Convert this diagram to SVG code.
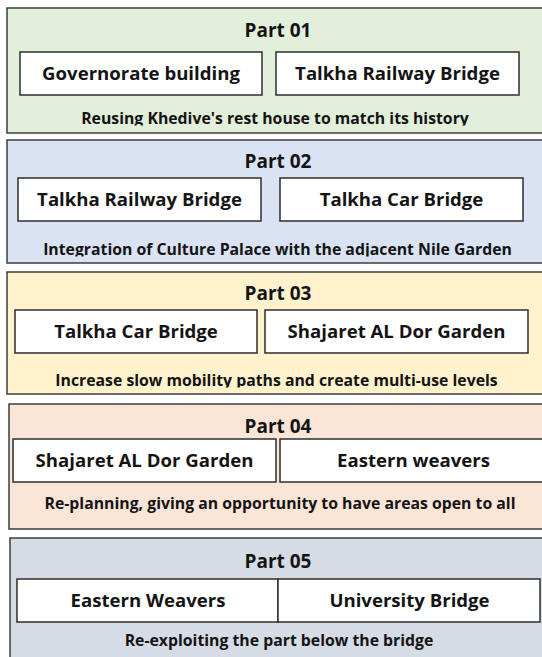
<svg xmlns="http://www.w3.org/2000/svg" width="542" height="657" viewBox="0 0 542 657">
  <style>
    .panel { stroke: #3c3c3c; stroke-width: 1.5; }
    .box { fill: #ffffff; stroke: #2e2e2e; stroke-width: 1.5; }
    .title, .label, .note { font-family: "Open Sans", "Liberation Sans", sans-serif; font-weight: bold; fill: #141414; text-anchor: middle; }
    .title { font-size: 19px; }
    .label { font-size: 18.6px; }
    .note { font-size: 15.8px; }
    .p1 { fill: #e2efda; }
    .p2 { fill: #dae3f3; }
    .p3 { fill: #fff2cc; }
    .p4 { fill: #fbe5d6; }
    .p5 { fill: #d6dce5; }
  </style>
  <defs>
    <!-- footer lines sit low in their panels; their descenders are cut off -->
    <clipPath id="clip-note1"><rect x="0" y="100" width="542" height="25.5"/></clipPath>
    <clipPath id="clip-note2"><rect x="0" y="230" width="542" height="26.5"/></clipPath>
    <clipPath id="clip-note3"><rect x="0" y="360" width="542" height="27.5"/></clipPath>
  </defs>
  <rect width="542" height="657" fill="#ffffff"/>

  <g id="part01">
    <rect class="panel p1" x="7" y="8" width="550" height="125"/>
    <text class="title" x="278" y="37">Part 01</text>
    <g id="part01-governorate">
      <rect class="box" x="20" y="52" width="242" height="43"/>
      <text class="label" x="141" y="80">Governorate building</text>
    </g>
    <g id="part01-railway">
      <rect class="box" x="276" y="52" width="243" height="43"/>
      <text class="label" x="397.5" y="80">Talkha Railway Bridge</text>
    </g>
    <text class="note" x="275" y="124" clip-path="url(#clip-note1)">Reusing Khedive's rest house to match its history</text>
  </g>

  <g id="part02">
    <rect class="panel p2" x="7" y="140" width="550" height="123"/>
    <text class="title" x="278" y="168">Part 02</text>
    <g id="part02-railway">
      <rect class="box" x="18" y="178" width="243" height="43"/>
      <text class="label" x="139.5" y="206">Talkha Railway Bridge</text>
    </g>
    <g id="part02-car">
      <rect class="box" x="280" y="178" width="243" height="43"/>
      <text class="label" x="401.5" y="206">Talkha Car Bridge</text>
    </g>
    <text class="note" x="277.5" y="255" clip-path="url(#clip-note2)">Integration of Culture Palace with the adjacent Nile Garden</text>
  </g>

  <g id="part03">
    <rect class="panel p3" x="7" y="272" width="550" height="122"/>
    <text class="title" x="278" y="300">Part 03</text>
    <g id="part03-car">
      <rect class="box" x="15" y="310" width="242" height="43"/>
      <text class="label" x="136" y="338">Talkha Car Bridge</text>
    </g>
    <g id="part03-shajaret">
      <rect class="box" x="265" y="310" width="263" height="43"/>
      <text class="label" x="396.5" y="338">Shajaret AL Dor Garden</text>
    </g>
    <text class="note" x="276.5" y="386" clip-path="url(#clip-note3)">Increase slow mobility paths and create multi-use levels</text>
  </g>

  <g id="part04">
    <rect class="panel p4" x="9" y="404" width="550" height="125"/>
    <text class="title" x="278" y="433">Part 04</text>
    <g id="part04-shajaret">
      <rect class="box" x="13" y="439" width="263" height="43"/>
      <text class="label" x="144.5" y="467">Shajaret AL Dor Garden</text>
    </g>
    <g id="part04-weavers">
      <rect class="box" x="280" y="439" width="270" height="43"/>
      <text class="label" x="413.5" y="467">Eastern weavers</text>
    </g>
    <text class="note" x="280" y="509">Re-planning, giving an opportunity to have areas open to all</text>
  </g>

  <g id="part05">
    <rect class="panel p5" x="10" y="538" width="550" height="130"/>
    <text class="title" x="278" y="568">Part 05</text>
    <g id="part05-weavers">
      <rect class="box" x="17" y="579" width="261" height="43"/>
      <text class="label" x="148" y="607">Eastern Weavers</text>
    </g>
    <g id="part05-university">
      <rect class="box" x="278" y="579" width="262" height="43"/>
      <text class="label" x="409.5" y="607">University Bridge</text>
    </g>
    <text class="note" x="279" y="646">Re-exploiting the part below the bridge</text>
  </g>
</svg>
